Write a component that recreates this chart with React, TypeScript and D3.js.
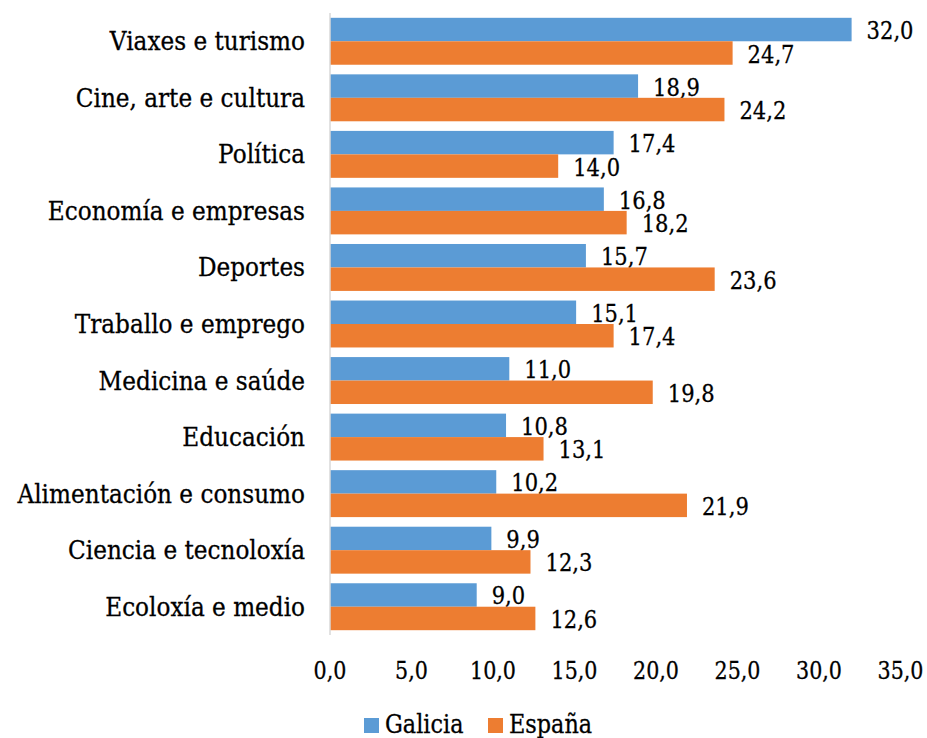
import React from "react";
import * as d3 from "d3";

const categories = [
  "Viaxes e turismo",
  "Cine, arte e cultura",
  "Política",
  "Economía e empresas",
  "Deportes",
  "Traballo e emprego",
  "Medicina e saúde",
  "Educación",
  "Alimentación e consumo",
  "Ciencia e tecnoloxía",
  "Ecoloxía e medio",
];
const galicia = [32.0, 18.9, 17.4, 16.8, 15.7, 15.1, 11.0, 10.8, 10.2, 9.9, 9.0];
const espana = [24.7, 24.2, 14.0, 18.2, 23.6, 17.4, 19.8, 13.1, 21.9, 12.3, 12.6];
const ticks = [0, 5, 10, 15, 20, 25, 30, 35];
const seriesNames = ["Galicia", "España"];
const colors = ["#5B9BD5", "#ED7D31"];

const W = 927;
const H = 738;
const FONT = "'DejaVu Serif', 'Liberation Serif', serif";

const fmt = (v: number) => v.toFixed(1).replace(".", ",");

function T({
  x,
  y,
  size,
  sx = 0.86,
  anchor = "start",
  children,
}: {
  x: number;
  y: number;
  size: number;
  sx?: number;
  anchor?: string;
  children: React.ReactNode;
}) {
  return (
    <text
      transform={`translate(${x},${y}) scale(${sx},1)`}
      textAnchor={anchor}
      fontSize={size}
      fill="#000"
      stroke="#000"
      strokeWidth={0.3}
      style={{ fontFamily: FONT }}
    >
      {children}
    </text>
  );
}

export default function App() {
  const x = d3.scaleLinear().domain([0, 35]).range([330, 900.5]);
  const y = d3
    .scaleBand<string>()
    .domain(categories)
    .range([13, 635])
    .paddingInner(0.17)
    .paddingOuter(0.085);
  const sub = d3
    .scaleBand<string>()
    .domain(seriesNames)
    .range([0, y.bandwidth()]);
  const series = [galicia, espana];

  return (
    <svg
      width={W}
      height={H}
      style={{ position: "absolute", left: 0, top: 0, display: "block", background: "#fff", fontFamily: FONT }}
    >
      {categories.map((c, i) => (
        <g key={c}>
          <T x={305} y={(y(c) as number) + y.bandwidth() / 2 + 9} size={26.5} sx={0.875} anchor="end">
            {c}
          </T>
          {series.map((s, j) => {
            const y0 = (y(c) as number) + (sub(seriesNames[j]) as number);
            return (
              <g key={j}>
                <rect
                  x={x(0)}
                  y={y0}
                  width={x(s[i]) - x(0)}
                  height={sub.bandwidth()}
                  fill={colors[j]}
                />
                <T x={x(s[i]) + 15} y={y0 + sub.bandwidth() / 2 + 9.5} size={24.5}>
                  {fmt(s[i])}
                </T>
              </g>
            );
          })}
        </g>
      ))}
      <line x1={330} x2={330} y1={13} y2={635} stroke="#D9D9D9" strokeWidth={1.5} />
      {ticks.map((t) => (
        <T key={t} x={x(t)} y={679} size={24} anchor="middle">
          {fmt(t)}
        </T>
      ))}
      <g>
        <rect x={364} y={718} width={15} height={15} fill={colors[0]} />
        <T x={385} y={733} size={26}>
          {seriesNames[0]}
        </T>
        <rect x={488} y={718} width={15} height={15} fill={colors[1]} />
        <T x={509} y={733} size={26}>
          {seriesNames[1]}
        </T>
      </g>
    </svg>
  );
}
